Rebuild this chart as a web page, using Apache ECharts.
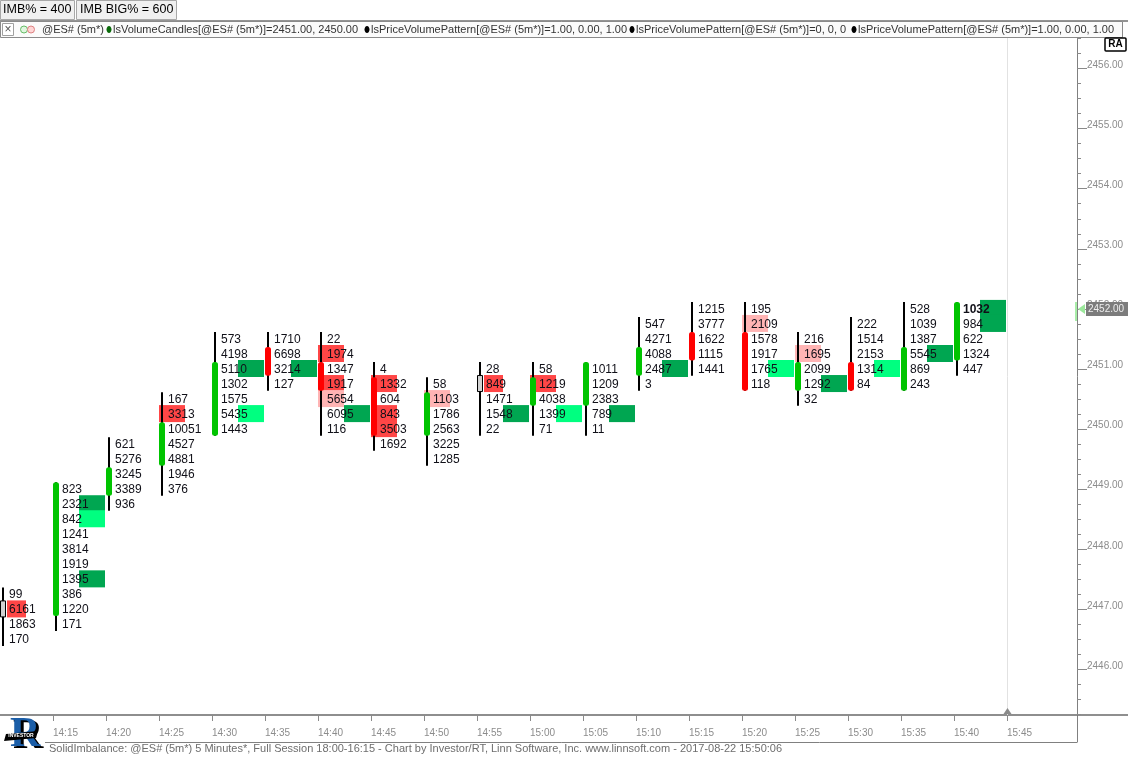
<!DOCTYPE html>
<html><head><meta charset="utf-8">
<script src="https://cdn.jsdelivr.net/npm/echarts@6/dist/echarts.min.js"></script>
<style>html,body{margin:0;padding:0;background:#fff;}#c{width:1128px;height:757px;}</style>
</head><body><div id="c"></div>
<script>
// ---------- DATA ----------
const times = ['14:10','14:15','14:20','14:25','14:30','14:35','14:40','14:45','14:50','14:55','15:00','15:05','15:10','15:15','15:20','15:25','15:30','15:35','15:40'];
const tickLabels = ['14:15','14:20','14:25','14:30','14:35','14:40','14:45','14:50','14:55','15:00','15:05','15:10','15:15','15:20','15:25','15:30','15:35','15:40','15:45'];
const opens  = [2447.00,2447.00,2449.00,2449.50,2450.00,2451.25,2451.00,2450.75,2450.00,2450.75,2450.50,2450.50,2451.00,2451.50,2451.50,2450.75,2451.00,2450.75,2451.25];
const closes = [2447.00,2449.00,2449.25,2450.00,2451.00,2451.00,2450.75,2450.00,2450.50,2450.75,2450.75,2451.00,2451.25,2451.25,2450.75,2451.00,2450.75,2451.25,2452.00];
const highs  = [2447.25,2449.00,2449.75,2450.50,2451.50,2451.50,2451.50,2451.00,2450.75,2451.00,2451.00,2451.00,2451.75,2452.00,2452.00,2451.50,2451.75,2452.00,2452.00];
const lows   = [2446.50,2446.75,2448.75,2449.00,2450.00,2450.75,2450.00,2449.75,2449.50,2450.00,2450.00,2450.00,2450.75,2451.00,2450.75,2450.50,2450.75,2450.75,2451.00];
// volume per price row, from the high down to the low
const volumes = [
  [99,6161,1863,170],
  [823,2321,842,1241,3814,1919,1395,386,1220,171],
  [621,5276,3245,3389,936],
  [167,3313,10051,4527,4881,1946,376],
  [573,4198,5110,1302,1575,5435,1443],
  [1710,6698,3214,127],
  [22,1974,1347,1917,5654,6095,116],
  [4,1332,604,843,3503,1692],
  [58,1103,1786,2563,3225,1285],
  [28,849,1471,1548,22],
  [58,1219,4038,1399,71],
  [1011,1209,2383,789,11],
  [547,4271,4088,2487,3],
  [1215,3777,1622,1115,1441],
  [195,2109,1578,1917,1765,118],
  [216,1695,2099,1292,32],
  [222,1514,2153,1314,84],
  [528,1039,1387,5545,869,243],
  [1032,984,622,1324,447]
];
// imbalance per row: R big sell, r sell, G big buy, g buy, . none
const imbalances = ['.R..','.Gg...G...','.....','.R.....','..G..g.','..G.','.R.RrG.','.R.RR.','.r....','.R.G.','.R.g.','...G.','...G.','.....','.r..g.','.r.G.','...g.','...G..','GG...'];
const priceTicks = [2446,2447,2448,2449,2450,2451,2452,2453,2454,2455,2456];
const lastPrice = 2452.00;
const cursorIndex = 19;

// ---------- LAYOUT ----------
const X_MIN = -3/53, X_MAX = X_MIN + 1077/53;
const Y_MIN = 2445.243, Y_MAX = 2456.508;
const FONT = '"Liberation Sans", Arial, sans-serif';
const IMB_COLORS = {R:'#ff4646', r:'#ffb4b4', G:'#00a651', g:'#00ff80'};

const rows = [];
volumes.forEach((vols, i) => vols.forEach((v, k) => {
  rows.push({i, p: highs[i] - 0.25*k, v, code: imbalances[i][k] || '.'});
}));
const lastIdx = times.length - 1;

const quarterTicks = [];
for (let p = Math.ceil(Y_MIN*4)/4; p <= Y_MAX; p += 0.25) quarterTicks.push(p);
const xTickVals = tickLabels.map((t, k) => (k+1) + X_MIN);

const chart = echarts.init(document.getElementById('c'));

const option = {
  animation: false,
  backgroundColor: '#ffffff',
  grid: {left: 0, right: 51, top: 38, bottom: 42, containLabel: false},
  xAxis: {
    type: 'value', min: X_MIN, max: X_MAX,
    axisLine: {show: true, onZero: false, lineStyle: {color: '#6a6a6a', width: 1.5}},
    axisTick: {show: true, customValues: xTickVals, length: 6, lineStyle: {color: '#8a8a8a'}},
    axisLabel: {show: true, customValues: xTickVals, margin: 13, align: 'left', color: '#8c8c8c',
      fontFamily: FONT, fontSize: 10,
      formatter: v => tickLabels[Math.round(v - X_MIN) - 1] || ''},
    splitLine: {show: false}
  },
  yAxis: [{
    type: 'value', position: 'right', min: Y_MIN, max: Y_MAX,
    axisLine: {show: true, onZero: false, lineStyle: {color: '#808080', width: 1}},
    axisTick: {show: true, customValues: priceTicks, length: 10, lineStyle: {color: '#8a8a8a'}},
    axisLabel: {show: true, customValues: priceTicks, margin: 10, color: '#8c8c8c', fontFamily: FONT, fontSize: 10,
      verticalAlign: 'bottom', lineHeight: 7, formatter: v => v.toFixed(2)},
    splitLine: {show: false}
  },{
    type: 'value', position: 'right', offset: 0, min: Y_MIN, max: Y_MAX,
    axisLine: {show: false, onZero: false},
    axisTick: {show: true, customValues: quarterTicks, length: 4, lineStyle: {color: '#8a8a8a'}},
    axisLabel: {show: false},
    splitLine: {show: false}
  }],
  series: [
    { // current time cursor
      type: 'custom', z: 1, silent: true,
      data: [[cursorIndex + X_MIN]],
      encode: {x: 0},
      renderItem: (params, api) => {
        const x = Math.round(api.coord([api.value(0), Y_MIN])[0]) + 0.5;
        const cs = params.coordSys;
        return {type: 'group', children: [
          {type: 'line', shape: {x1: x, y1: cs.y, x2: x, y2: cs.y + cs.height}, style: {stroke: '#e2e2e2', lineWidth: 1}},
          {type: 'polygon', shape: {points: [[x, cs.y+cs.height-7],[x-4, cs.y+cs.height-1],[x+4, cs.y+cs.height-1]]}, style: {fill: '#8a8a8a'}}
        ]};
      }
    },
    { // imbalance boxes
      type: 'custom', z: 2, silent: true,
      data: rows.map(r => [r.i, r.p]),
      encode: {x: 0, y: 1},
      renderItem: (params, api) => {
        const r = rows[params.dataIndex];
        if (r.code === '.') return null;
        const pt = api.coord([r.i, r.p]);
        const h = api.size([0, 0.25])[1];
        const c = Math.round(pt[0]);
        const doji = opens[r.i] === closes[r.i];
        let x0, x1;
        if (r.code === 'R' || r.code === 'r') { x0 = doji ? c + 4 : c - 3; x1 = c + 23; }
        else { x0 = c + 23; x1 = c + 49; }
        return {type: 'rect', shape: {x: x0, y: pt[1] - h/2 - 1.5, width: x1 - x0, height: h + 2},
          style: {fill: IMB_COLORS[r.code]}};
      }
    },
    { // candles
      type: 'custom', z: 3, silent: true,
      data: times.map((t, i) => [i, opens[i], closes[i], highs[i], lows[i]]),
      encode: {x: 0, y: [1,2,3,4]},
      renderItem: (params, api) => {
        const i = api.value(0), o = api.value(1), cl = api.value(2), hi = api.value(3), lo = api.value(4);
        const c = Math.round(api.coord([i, o])[0]);
        const yH = api.coord([i, hi + 0.115])[1], yL = api.coord([i, lo - 0.11])[1];
        const children = [{type: 'rect', shape: {x: c - 1, y: yH, width: 2, height: yL - yH}, style: {fill: '#000'}}];
        if (o === cl) {
          const yc = api.coord([i, o])[1];
          children.push({type: 'rect', shape: {x: c - 2.5, y: yc - 8.5, width: 5, height: 16}, style: {fill: '#d2d2d2', stroke: '#000', lineWidth: 1}});
        } else {
          const yt = api.coord([i, Math.max(o, cl) + 0.115])[1], yb = api.coord([i, Math.min(o, cl) - 0.11])[1];
          children.push({type: 'rect', shape: {x: c - 3, y: yt, width: 6, height: yb - yt, r: 2.5},
            style: {fill: cl > o ? '#00c400' : '#ff0000'}});
        }
        return {type: 'group', children};
      }
    },
    { // volume numbers
      type: 'custom', z: 4, silent: true,
      data: rows.map(r => [r.i, r.p, r.v]),
      encode: {x: 0, y: 1},
      renderItem: (params, api) => {
        const r = rows[params.dataIndex];
        const pt = api.coord([r.i, r.p]);
        const bold = r.i === lastIdx && r.p === lastPrice;
        return {type: 'text', style: {text: String(r.v), x: Math.round(pt[0]) + 6, y: pt[1] + 0.5,
          align: 'left', verticalAlign: 'middle', fill: '#101018',
          font: (bold ? 'bold ' : '') + '12px ' + FONT}};
      }
    },
    { // last price tag
      type: 'custom', z: 10, silent: true,
      data: [[X_MIN, lastPrice]],
      encode: {x: 0, y: 1},
      renderItem: (params, api) => {
        const cs = params.coordSys;
        const y = Math.round(api.coord([api.value(0), api.value(1)])[1]);
        const x = cs.x + cs.width;
        return {type: 'group', children: [
          {type: 'rect', shape: {x: x - 2, y: y - 7, width: 2, height: 19}, style: {fill: '#a8eea8'}},
          {type: 'polygon', shape: {points: [[x + 1, y], [x + 8, y - 5], [x + 8, y + 5]]}, style: {fill: '#9ce89c'}},
          {type: 'rect', shape: {x: x + 9, y: y - 7, width: 42, height: 14}, style: {fill: '#7c7c7c'}},
          {type: 'text', style: {text: lastPrice.toFixed(2), x: x + 11, y: y, align: 'left', verticalAlign: 'middle',
            fill: '#eeeeee', font: '10px ' + FONT}}
        ]};
      }
    }
  ],
  graphic: [
    {type: 'rect', shape: {x: 0.5, y: 0.5, width: 74, height: 19}, style: {fill: '#f0f0f0', stroke: '#a8a8a8'}},
    {type: 'text', x: 3, y: 10, style: {text: 'IMB% = 400', font: '12.5px ' + FONT, fill: '#000', verticalAlign: 'middle'}},
    {type: 'rect', shape: {x: 76.5, y: 0.5, width: 100, height: 19}, style: {fill: '#f0f0f0', stroke: '#a8a8a8'}},
    {type: 'text', x: 80, y: 10, style: {text: 'IMB BIG% = 600', font: '12.5px ' + FONT, fill: '#000', verticalAlign: 'middle'}},
    {type: 'line', shape: {x1: 0, y1: 21, x2: 1128, y2: 21}, style: {stroke: '#707070', lineWidth: 1.5}},
    {type: 'rect', shape: {x: 0.5, y: 21.5, width: 1122, height: 16}, style: {fill: '#fbfbfb', stroke: '#8a8a8a'}},
    {type: 'rect', shape: {x: 2.5, y: 23.5, width: 11, height: 12}, style: {fill: '#fff', stroke: '#a0a0a0'}},
    {type: 'text', x: 8, y: 29.5, style: {text: '×', font: '12px ' + FONT, fill: '#555', align: 'center', verticalAlign: 'middle'}},
    {type: 'circle', shape: {cx: 24, cy: 29.5, r: 3.5}, style: {fill: '#dff7df', stroke: '#66bb66', lineWidth: 1}},
    {type: 'circle', shape: {cx: 31, cy: 29.5, r: 3.5}, style: {fill: '#ffd6d6', stroke: '#dd8080', lineWidth: 1}},
    {type: 'text', x: 42, y: 30, style: {text: '@ES# (5m*)', font: '11px ' + FONT, fill: '#333', verticalAlign: 'middle'}},
    {type: 'ellipse', shape: {cx: 109, cy: 29.5, rx: 2.5, ry: 3.5}, style: {fill: '#0a6a0a'}},
    {type: 'text', x: 113, y: 30, style: {text: 'lsVolumeCandles[@ES# (5m*)]=2451.00, 2450.00', font: '11px ' + FONT, fill: '#333', verticalAlign: 'middle'}},
    {type: 'ellipse', shape: {cx: 367, cy: 29.5, rx: 2.5, ry: 3.5}, style: {fill: '#000'}},
    {type: 'text', x: 371, y: 30, style: {text: 'lsPriceVolumePattern[@ES# (5m*)]=1.00, 0.00, 1.00', font: '11px ' + FONT, fill: '#333', verticalAlign: 'middle'}},
    {type: 'ellipse', shape: {cx: 632, cy: 29.5, rx: 2.5, ry: 3.5}, style: {fill: '#000'}},
    {type: 'text', x: 636, y: 30, style: {text: 'lsPriceVolumePattern[@ES# (5m*)]=0, 0, 0', font: '11px ' + FONT, fill: '#333', verticalAlign: 'middle'}},
    {type: 'ellipse', shape: {cx: 854, cy: 29.5, rx: 2.5, ry: 3.5}, style: {fill: '#000'}},
    {type: 'text', x: 858, y: 30, style: {text: 'lsPriceVolumePattern[@ES# (5m*)]=1.00, 0.00, 1.00', font: '11px ' + FONT, fill: '#333', verticalAlign: 'middle'}},
    {type: 'rect', shape: {x: 1105, y: 38, width: 21, height: 13, r: 1}, style: {fill: '#fff', stroke: '#000', lineWidth: 1.5}},
    {type: 'text', x: 1115.5, y: 44.5, style: {text: 'RA', font: 'bold 10px ' + FONT, fill: '#000', align: 'center', verticalAlign: 'middle'}},
    {type: 'line', shape: {x1: 1077, y1: 715, x2: 1128, y2: 715}, style: {stroke: '#6a6a6a', lineWidth: 1.5}},
    {type: 'line', shape: {x1: 1077.5, y1: 715, x2: 1077.5, y2: 742}, style: {stroke: '#808080', lineWidth: 1}},
    {type: 'line', shape: {x1: 45, y1: 742.5, x2: 1077.5, y2: 742.5}, style: {stroke: '#808080', lineWidth: 1}},
    {type: 'text', x: 49, y: 749, style: {text: 'SolidImbalance: @ES# (5m*) 5 Minutes*, Full Session 18:00-16:15 - Chart by Investor/RT, Linn Software, Inc. www.linnsoft.com - 2017-08-22 15:50:06', font: '11px ' + FONT, fill: '#6e6e6e', verticalAlign: 'middle'}},
    // logo
    {type: 'text', x: 13, y: 737, style: {text: 'R', font: 'bold 42px "Liberation Serif", serif', fill: '#000', verticalAlign: 'middle'}},
    {type: 'text', x: 10, y: 735, style: {text: 'R', font: 'bold 42px "Liberation Serif", serif', fill: '#1b5ea8', verticalAlign: 'middle'}},
    {type: 'polygon', shape: {points: [[6, 734], [38, 731], [36, 738], [4, 741]]}, style: {fill: '#000'}},
    {type: 'text', x: 21, y: 736, style: {text: 'INVESTOR', font: 'bold 5px ' + FONT, fill: '#fff', align: 'center', verticalAlign: 'middle'}}
  ]
};
chart.setOption(option);
</script>
</body></html>
